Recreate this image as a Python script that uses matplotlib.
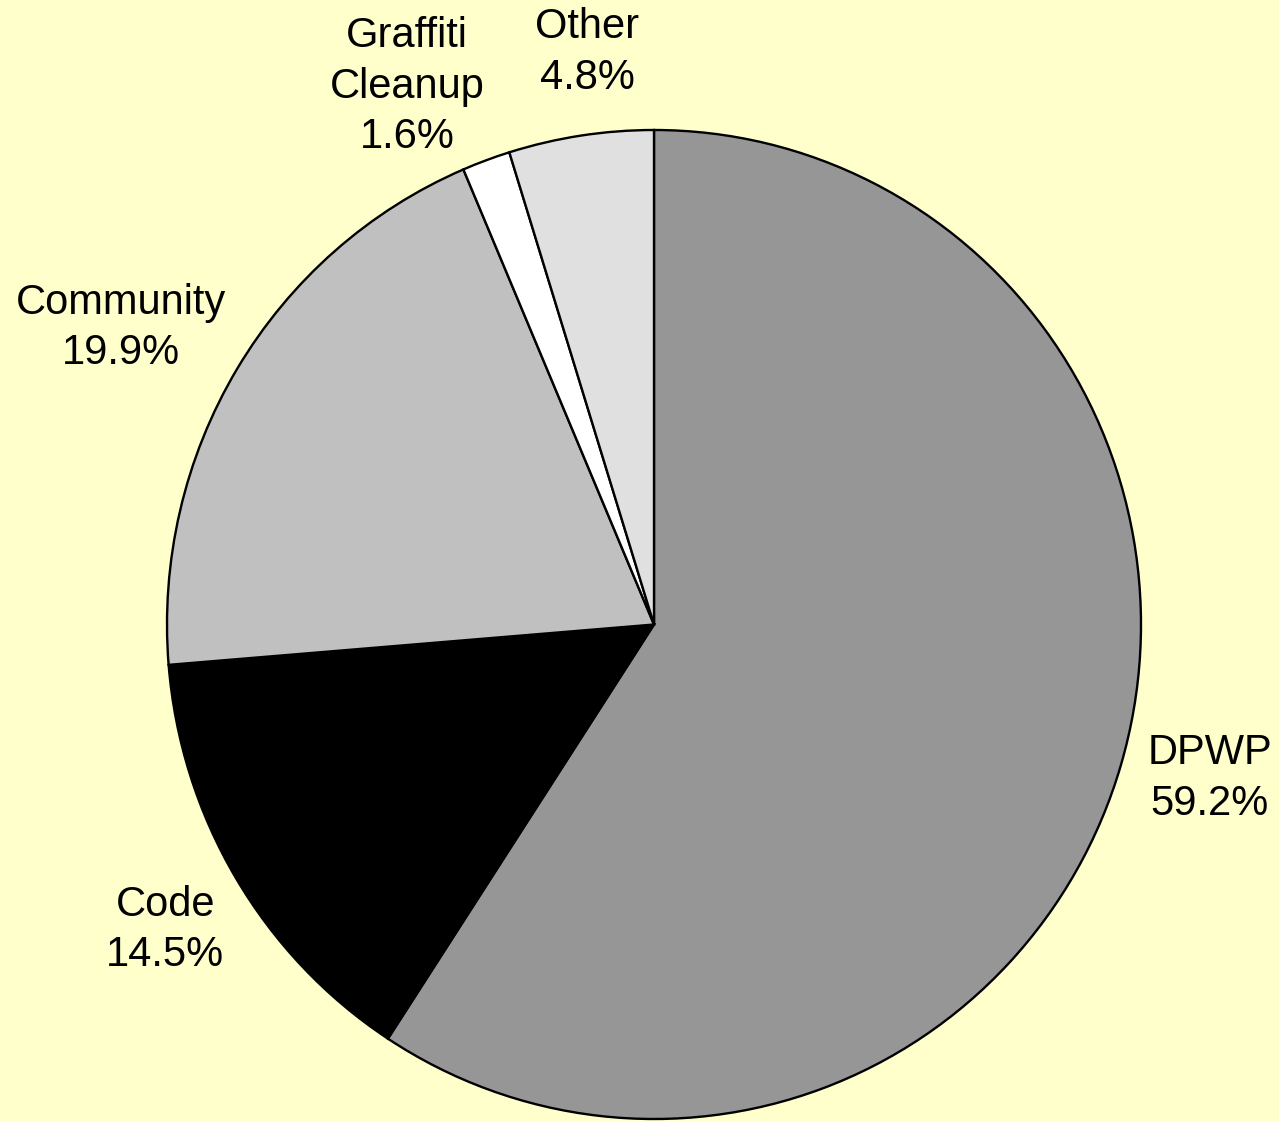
import numpy as np
import matplotlib
matplotlib.use("Agg")
import matplotlib.pyplot as plt

categories = ["DPWP", "Code", "Community", "Graffiti\nCleanup", "Other"]
shares = [59.2, 14.5, 19.9, 1.6, 4.8]
colors = ["#969696", "#000000", "#C0C0C0", "#FFFFFF", "#E0E0E0"]

# layout nudges for labels (data units), relative to default label position
label_dist = 1.18
nudges = [(0.01, 0.025), (0.01, -0.014), (-0.085, -0.01), (-0.10, -0.02), (0.04, -0.01)]

W, H = 1279, 1121
fig = plt.figure(figsize=(W / 100, H / 100), dpi=100)
fig.patch.set_facecolor("#FFFFCC")

# axes so that pie circle spans x 167..1141, y 130..1119 px
left, right, top, bottom = 167, 1141, 130, 1119
ax = fig.add_axes([left / W, (H - bottom) / H, (right - left) / W, (bottom - top) / H])
ax.set_facecolor("none")

labels = [f"{c}\n{v:.1f}%" for c, v in zip(categories, shares)]
wedges, texts = ax.pie(
    shares, colors=colors, startangle=90, counterclock=False,
    labels=labels, labeldistance=label_dist,
    wedgeprops=dict(edgecolor="black", linewidth=1.7),
    textprops=dict(fontsize=30, family="Liberation Sans", color="black",
                   linespacing=1.33),
)
for w, t, (nx, ny) in zip(wedges, texts, nudges):
    ang = np.deg2rad((w.theta1 + w.theta2) / 2)
    t.set_position((label_dist * np.cos(ang) + nx, label_dist * np.sin(ang) + ny))
    t.set_ha("center")
    t.set_va("center")
    t.set_multialignment("center")

ax.set_aspect("auto")
ax.set_xlim(-1, 1)
ax.set_ylim(-1, 1)
ax.axis("off")

fig.savefig("out.png", dpi=100, facecolor=fig.get_facecolor())
